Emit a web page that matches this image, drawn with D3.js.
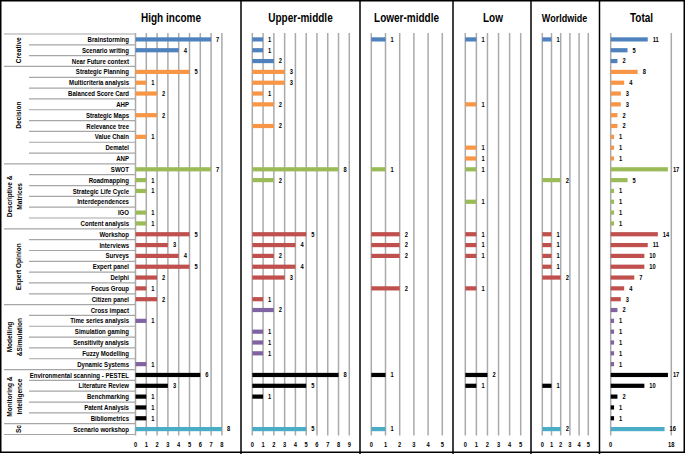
<!DOCTYPE html>
<html>
<head>
<meta charset="utf-8">
<script src="https://cdn.jsdelivr.net/npm/d3@7"></script>
<style>
  body { margin: 0; background: #fff; }
  svg text { font-family: "Liberation Sans", Arial, sans-serif; font-weight: bold; fill: #000; }
</style>
</head>
<body>
<div id="chart"></div>
<script>
// groups of methods, in order, with how many rows each one has
var groups = ["Creative", "Decision", "Descriptive &\nMatrices", "Expert Opinion",
              "Modelling\n&Simulation", "Monitoring &\nIntelligence", "Sc"];
var groupSizes = [3, 9, 6, 7, 6, 5, 1];
var groupColors = ["#4f81bd", "#f79646", "#9bbb59", "#c0504d", "#8064a2", "#000000", "#4bacc6"];

var methods = [
  "Brainstorming", "Scenario writing", "Near Future context",
  "Strategic Planning", "Multicriteria analysis", "Balanced Score Card", "AHP", "Strategic Maps",
  "Relevance tree", "Value Chain", "Dematel", "ANP",
  "SWOT", "Roadmapping", "Strategic Life Cycle", "Interdependences", "IGO", "Content analysis",
  "Workshop", "Interviews", "Surveys", "Expert panel", "Delphi", "Focus Group", "Citizen panel",
  "Cross impact", "Time series analysis", "Simulation gaming", "Sensitivity analysis", "Fuzzy Modelling", "Dynamic Systems",
  "Environmental scanning - PESTEL", "Literature Review", "Benchmarking", "Patent Analysis", "Bibliometrics",
  "Scenario workshop"
];

var highIncome  = [7,4,0, 5,1,2,0,2,0,1,0,0, 7,1,1,0,1,1, 5,3,4,5,2,1,2, 0,1,0,0,0,1, 6,3,1,1,1, 8];
var upperMiddle = [1,1,2, 3,3,1,2,0,2,0,0,0, 8,2,0,0,0,0, 5,4,2,4,3,0,1, 2,0,1,1,1,0, 8,5,1,0,0, 5];
var lowerMiddle = [1,0,0, 0,0,0,0,0,0,0,0,0, 1,0,0,0,0,0, 2,2,2,0,0,2,0, 0,0,0,0,0,0, 1,0,0,0,0, 1];
var lowIncome   = [1,0,0, 0,0,0,1,0,0,0,1,1, 1,0,0,1,0,0, 1,1,1,0,0,1,0, 0,0,0,0,0,0, 2,1,0,0,0, 0];
var worldwide   = [1,0,0, 0,0,0,0,0,0,0,0,0, 0,2,0,0,0,0, 1,1,1,1,2,0,0, 0,0,0,0,0,0, 0,1,0,0,0, 2];
var total       = [11,5,2, 8,4,3,3,2,2,1,1,1, 17,5,1,1,1,1, 14,11,10,10,7,4,3, 2,1,1,1,1,1, 17,10,2,1,1, 16];

var panelTitles = ["High income", "Upper-middle", "Lower-middle", "Low", "Worldwide", "Total"];
var panelValues = [highIncome, upperMiddle, lowerMiddle, lowIncome, worldwide, total];
var panelMax    = [8, 9, 5, 5, 5, 18];

var width = 685, height = 454;

// where each little plot sits
var panels = [
  { x0: 135.5, x1: 221.9, sepRight: 241 },
  { x0: 252.3, x1: 349.3, sepRight: 360 },
  { x0: 371.3, x1: 442.3, sepRight: 453 },
  { x0: 465.3, x1: 520.7, sepRight: 531 },
  { x0: 542.3, x1: 588.3, sepRight: 599.5 },
  { x0: 610.7, x1: 671.3, sepRight: null }
];
var titleX = [171, 300.5, 406.5, 493, 564.5, 641.5];

var tableTop = 34, tableBottom = 434.5;
var squeeze = 0.82; // fonts are a bit narrow in the original

var svg = d3.select("#chart").append("svg")
    .attr("width", width)
    .attr("height", height);

// narrow-looking text: scale x down around the anchor point
function addText(parent, x, y, str, size, anchor, rot) {
  return parent.append("text")
      .attr("transform", "translate(" + x + "," + y + ")" + (rot ? " rotate(" + rot + ")" : "") + " scale(" + squeeze + ",1)")
      .attr("text-anchor", anchor || "start")
      .attr("font-size", size + "px")
      .text(str);
}

var y = d3.scaleBand()
    .domain(methods)
    .range([tableTop, tableBottom]);

// colour of each row from its group
var rowColor = [];
groupSizes.forEach(function(n, i) {
  for (var k = 0; k < n; k++) rowColor.push(groupColors[i]);
});

// label table on the left
var labelArea = svg.append("g");

var start = 0;
groupSizes.forEach(function(n, gi) {
  var gTop = y(methods[start]);
  var gBottom = y(methods[start + n - 1]) + y.bandwidth();

  // line above the group
  labelArea.append("line")
      .attr("x1", 4).attr("x2", 135.5)
      .attr("y1", gTop).attr("y2", gTop)
      .attr("stroke", "#a6a6a6").attr("stroke-width", 1.2);

  // lines between rows inside the group
  for (var k = 1; k < n; k++) {
    var yy = y(methods[start + k]);
    labelArea.append("line")
        .attr("x1", 29).attr("x2", 135.5)
        .attr("y1", yy).attr("y2", yy)
        .attr("stroke", "#a6a6a6").attr("stroke-width", 1.2);
  }

  // rotated group name
  var lines = groups[gi].split("\n");
  var cy = (gTop + gBottom) / 2;
  lines.forEach(function(t, li) {
    var cx = lines.length === 1 ? 21 : 12 + li * 9.5;
    addText(labelArea, cx, cy, t, 8, "middle", -90);
  });

  start += n;
});

// bottom line of the table
labelArea.append("line")
    .attr("x1", 4).attr("x2", 135.5)
    .attr("y1", tableBottom).attr("y2", tableBottom)
    .attr("stroke", "#a6a6a6").attr("stroke-width", 1.2);

methods.forEach(function(m) {
  addText(labelArea, 129, y(m) + y.bandwidth() / 2 + 2.6, m, 7.4, "end");
});

// the six panels
panels.forEach(function(p, pi) {
  var vals = panelValues[pi];
  var x = d3.scaleLinear().domain([0, panelMax[pi]]).range([p.x0, p.x1]);
  var ticks = pi === 5 ? [0, 18] : d3.range(0, panelMax[pi] + 1);

  var g = svg.append("g");

  g.selectAll(".grid")
      .data(ticks)
      .enter().append("line")
      .attr("x1", function(d) { return x(d); })
      .attr("x2", function(d) { return x(d); })
      .attr("y1", 33)
      .attr("y2", 435.5)
      .attr("stroke", "#aaaaaa")
      .attr("stroke-width", 1.5);

  ticks.forEach(function(t) {
    addText(g, x(t), 447, t, 7, "middle");
  });

  var barH = 4.2;
  var rows = methods.map(function(m, i) { return { name: m, v: vals[i], c: rowColor[i] }; })
      .filter(function(d) { return d.v > 0; });

  g.selectAll(".bar")
      .data(rows)
      .enter().append("rect")
      .attr("x", x(0))
      .attr("y", function(d) { return y(d.name) + y.bandwidth() / 2 - barH / 2; })
      .attr("width", function(d) { return x(d.v) - x(0); })
      .attr("height", barH)
      .attr("fill", function(d) { return d.c; });

  rows.forEach(function(d) {
    addText(g, x(d.v) + 5, y(d.name) + y.bandwidth() / 2 + 2.4, d.v, 7, "start");
  });

  addText(svg, titleX[pi], 22, panelTitles[pi], pi === 4 ? 11 : 12.2, "middle");

  if (p.sepRight) {
    svg.append("line")
        .attr("x1", p.sepRight).attr("x2", p.sepRight)
        .attr("y1", 0).attr("y2", height)
        .attr("stroke", "#000").attr("stroke-width", 1.5);
  }
});

// outer frame
svg.append("rect")
    .attr("x", 0.75).attr("y", 0.75)
    .attr("width", width - 1.5).attr("height", height - 2.5)
    .attr("fill", "none")
    .attr("stroke", "#000")
    .attr("stroke-width", 1.5);
</script>
</body>
</html>
